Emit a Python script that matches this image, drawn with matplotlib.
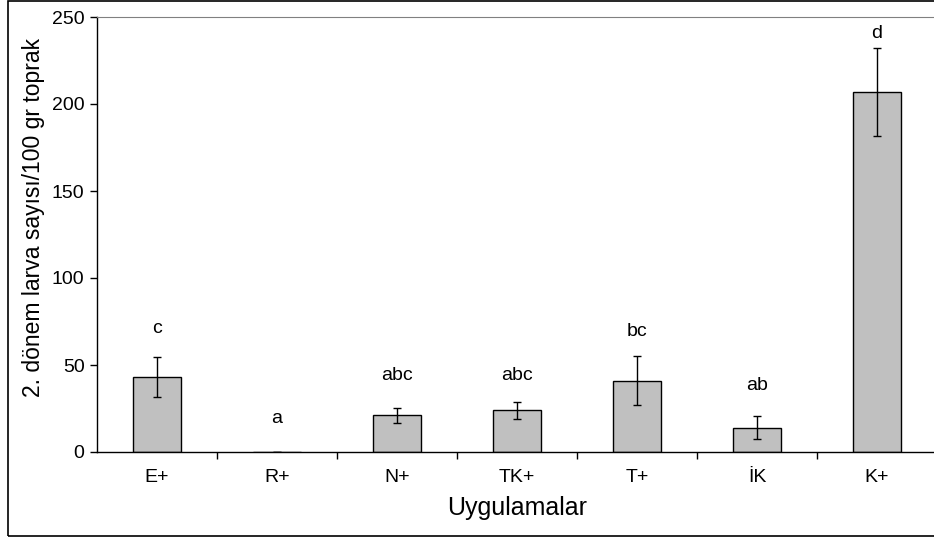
import matplotlib
matplotlib.use('Agg')
import numpy as np
import matplotlib.pyplot as plt
from matplotlib.patches import Rectangle

plt.rcParams['font.family'] = ['Liberation Sans', 'DejaVu Sans']

# data
categories = ['E+', 'R+', 'N+', 'TK+', 'T+', 'İK', 'K+']
means = [43, 0, 21, 24, 41, 14, 207]
errors = [11.5, 0, 4.2, 4.8, 14, 6.6, 25.3]
letters = ['c', 'a', 'abc', 'abc', 'bc', 'ab', 'd']
letter_y = [71, 19.5, 44, 44, 69, 38, 240.5]

fig = plt.figure(figsize=(9.34, 5.37), dpi=100)
ax = fig.add_axes([97 / 934, 85 / 537, 840 / 934, 435 / 537])

x = np.arange(len(categories))
ax.bar(x, means, width=0.4, color='#c0c0c0', edgecolor='black', linewidth=1, zorder=2)
ax.errorbar(x, means, yerr=errors, fmt='none', ecolor='black', elinewidth=1,
            capsize=3, capthick=1, zorder=3)
for xi, lab, ly in zip(x, letters, letter_y):
    ax.text(xi, ly, lab, ha='center', va='center', fontsize=14)

ax.set_xlim(-0.5, len(categories) - 0.5)
ax.set_ylim(0, 250)
ax.set_yticks(np.arange(0, 251, 50))
ax.set_xticks(x)
ax.set_xticklabels(categories, fontsize=14)
ax.set_xticks(np.arange(0.5, len(categories) - 0.5, 1), minor=True)
ax.tick_params(axis='x', which='major', length=0, pad=12)
ax.tick_params(axis='x', which='minor', length=5, width=1, direction='out')
ax.tick_params(axis='y', length=5, width=1, labelsize=14, direction='out', pad=4)

ax.spines['top'].set_color('#808080')
ax.spines['right'].set_visible(False)
for s in ['left', 'bottom']:
    ax.spines[s].set_linewidth(1)

ax.set_xlabel('Uygulamalar', fontsize=18)
ax.set_ylabel('2. dönem larva sayısı/100 gr toprak', fontsize=16.5)
ax.xaxis.set_label_coords(0.5, -0.1)
ax.yaxis.set_label_coords(-0.062, 0.54)

# outer frame of the chart
fig.patches.append(Rectangle((8 / 934, 1 / 537), 1.0, 535 / 537, transform=fig.transFigure,
                             fill=False, edgecolor='black', linewidth=1.2))

fig.savefig('out.png', dpi=100)
